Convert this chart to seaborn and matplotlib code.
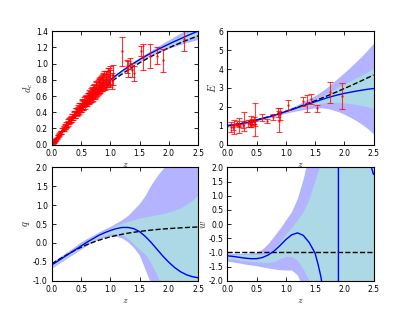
import matplotlib
matplotlib.use("Agg")
import numpy as np
import pandas as pd
import seaborn as sns
from matplotlib import pyplot as plt

# common redshift grid for curves and bands
z_grid = [0.0, 0.1, 0.2, 0.3, 0.4, 0.5, 0.6, 0.7, 0.8, 0.9, 1.0, 1.1, 1.2,
          1.3, 1.4, 1.5, 1.6, 1.7, 1.8, 1.9, 2.0, 2.1, 2.2, 2.3, 2.4, 2.5]

# --- d_c panel ---
dc_lcdm = [0.0, 0.098, 0.191, 0.279, 0.362, 0.440, 0.514, 0.583, 0.648, 0.709,
           0.767, 0.821, 0.872, 0.920, 0.966, 1.009, 1.050, 1.089, 1.126, 1.161,
           1.195, 1.227, 1.257, 1.287, 1.315, 1.342]
dc_fit = [0.0, 0.099, 0.194, 0.285, 0.371, 0.453, 0.531, 0.604, 0.673, 0.738,
          0.799, 0.856, 0.909, 0.959, 1.006, 1.050, 1.092, 1.132, 1.170, 1.206,
          1.241, 1.275, 1.307, 1.340, 1.371, 1.402]
dc_hw2 = [0.0, 0.002, 0.003, 0.004, 0.005, 0.005, 0.006, 0.006, 0.007, 0.008,
          0.009, 0.011, 0.013, 0.016, 0.019, 0.023, 0.028, 0.033, 0.039, 0.046,
          0.053, 0.061, 0.070, 0.080, 0.092, 0.105]
dc_hw1 = [0.0, 0.001, 0.002, 0.002, 0.003, 0.003, 0.003, 0.003, 0.004, 0.004,
          0.005, 0.006, 0.007, 0.008, 0.010, 0.012, 0.014, 0.017, 0.020, 0.023,
          0.027, 0.031, 0.035, 0.040, 0.046, 0.053]

sn_z = [0.015, 0.02, 0.025, 0.03, 0.035, 0.04, 0.05, 0.06, 0.07, 0.08, 0.10, 0.12,
        0.14, 0.16, 0.18, 0.20, 0.22, 0.24, 0.25, 0.26, 0.28, 0.30, 0.31, 0.33,
        0.34, 0.36, 0.38, 0.40, 0.41, 0.43, 0.45, 0.46, 0.48, 0.50, 0.51, 0.53,
        0.55, 0.56, 0.58, 0.60, 0.61, 0.63, 0.64, 0.66, 0.68, 0.70, 0.72, 0.74,
        0.76, 0.78, 0.80, 0.82, 0.84, 0.86, 0.88, 0.90, 0.92, 0.95, 0.97, 1.00,
        1.02, 0.27, 0.29, 0.32, 0.35, 0.37, 0.39, 0.42, 0.44, 0.47, 0.49, 0.52,
        0.54, 0.57, 0.59, 0.62, 0.65, 0.67, 0.69, 0.71, 0.73, 0.75, 0.79, 0.81,
        0.83, 0.85, 0.87, 0.89, 0.93, 0.96, 0.99, 1.05, 0.11, 0.13, 0.15, 0.19,
        0.21, 0.23, 1.20, 1.28, 1.31, 1.33, 1.37, 1.40, 1.53, 1.55, 1.68, 1.79,
        1.90, 2.26]
sn_d = [0.015, 0.020, 0.026, 0.029, 0.036, 0.039, 0.051, 0.058, 0.071, 0.078, 0.102, 0.115,
        0.143, 0.152, 0.184, 0.190, 0.224, 0.228, 0.250, 0.248, 0.280, 0.285, 0.305, 0.310,
        0.338, 0.342, 0.372, 0.372, 0.405, 0.398, 0.440, 0.432, 0.468, 0.455, 0.492, 0.480,
        0.525, 0.505, 0.555, 0.535, 0.575, 0.565, 0.610, 0.590, 0.640, 0.615, 0.672, 0.640,
        0.705, 0.688, 0.720, 0.722, 0.760, 0.748, 0.790, 0.770, 0.805, 0.810, 0.845, 0.815,
        0.790, 0.262, 0.296, 0.322, 0.340, 0.365, 0.370, 0.410, 0.418, 0.460, 0.462, 0.500,
        0.492, 0.538, 0.540, 0.572, 0.582, 0.620, 0.610, 0.655, 0.658, 0.680, 0.710, 0.725,
        0.742, 0.765, 0.775, 0.800, 0.800, 0.835, 0.860, 0.860, 0.112, 0.128, 0.152, 0.186,
        0.210, 0.222, 1.150, 0.970, 0.930, 1.000, 0.920, 0.880, 1.160, 1.080, 1.090, 1.100,
        1.040, 1.300]
sn_err = [0.002, 0.003, 0.003, 0.004, 0.004, 0.005, 0.006, 0.007, 0.008, 0.009, 0.011, 0.013,
          0.016, 0.018, 0.020, 0.022, 0.025, 0.027, 0.028, 0.029, 0.031, 0.033, 0.034, 0.036,
          0.038, 0.039, 0.041, 0.043, 0.045, 0.046, 0.049, 0.050, 0.052, 0.053, 0.055, 0.056,
          0.058, 0.059, 0.062, 0.063, 0.065, 0.066, 0.068, 0.069, 0.072, 0.073, 0.076, 0.077,
          0.080, 0.082, 0.084, 0.087, 0.089, 0.092, 0.094, 0.097, 0.099, 0.102, 0.105, 0.108,
          0.100, 0.030, 0.034, 0.037, 0.040, 0.042, 0.044, 0.047, 0.050, 0.053, 0.055, 0.058,
          0.060, 0.063, 0.066, 0.069, 0.072, 0.075, 0.078, 0.081, 0.084, 0.087, 0.092, 0.095,
          0.097, 0.100, 0.102, 0.105, 0.110, 0.112, 0.115, 0.120, 0.012, 0.014, 0.016, 0.021,
          0.024, 0.026, 0.180, 0.080, 0.100, 0.070, 0.090, 0.090, 0.060, 0.160, 0.150, 0.110,
          0.140, 0.150]

# --- E panel ---
e_lcdm = [1.000, 1.049, 1.104, 1.166, 1.234, 1.309, 1.389, 1.474, 1.565, 1.661,
          1.761, 1.865, 1.973, 2.086, 2.202, 2.321, 2.444, 2.570, 2.699, 2.832,
          2.967, 3.104, 3.245, 3.388, 3.534, 3.683]
e_fit = [1.000, 1.045, 1.095, 1.150, 1.210, 1.300, 1.375, 1.460, 1.550, 1.645,
         1.750, 1.850, 1.955, 2.060, 2.165, 2.270, 2.370, 2.470, 2.560, 2.640,
         2.710, 2.770, 2.830, 2.880, 2.930, 2.970]
e_hw2 = [0.08, 0.07, 0.06, 0.05, 0.05, 0.05, 0.05, 0.05, 0.06, 0.07,
         0.09, 0.12, 0.16, 0.21, 0.27, 0.33, 0.42, 0.55, 0.72, 0.90,
         1.10, 1.32, 1.55, 1.80, 2.08, 2.40]
e_hw1 = [0.04, 0.03, 0.03, 0.02, 0.02, 0.02, 0.02, 0.02, 0.03, 0.03,
         0.04, 0.05, 0.07, 0.09, 0.12, 0.15, 0.19, 0.25, 0.33, 0.41,
         0.50, 0.60, 0.70, 0.81, 0.93, 1.06]

hz_z = [0.07, 0.09, 0.12, 0.17, 0.179, 0.199, 0.20, 0.27, 0.28, 0.352, 0.3802,
        0.40, 0.4004, 0.4247, 0.4497, 0.4783, 0.48, 0.593, 0.68, 0.781, 0.875,
        0.88, 0.90, 1.037, 1.30, 1.363, 1.43, 1.53, 1.75, 1.965]
hz_e = [0.95, 0.95, 0.94, 1.14, 1.03, 1.03, 1.00, 1.05, 1.22, 1.14, 1.14,
        1.30, 1.05, 1.19, 1.27, 1.11, 1.33, 1.42, 1.26, 1.44, 1.71,
        1.23, 1.60, 2.11, 2.30, 2.19, 2.42, 1.92, 2.77, 2.55]
hz_err = [0.27, 0.16, 0.36, 0.11, 0.05, 0.07, 0.41, 0.19, 0.50, 0.19, 0.18,
          0.23, 0.14, 0.15, 0.18, 0.12, 0.85, 0.18, 0.11, 0.16, 0.23,
          0.55, 0.32, 0.27, 0.23, 0.46, 0.25, 0.19, 0.55, 0.69]

# --- q panel ---
q_lcdm = [-0.550, -0.455, -0.362, -0.273, -0.189, -0.113, -0.044, 0.017, 0.071, 0.119,
          0.161, 0.198, 0.230, 0.259, 0.283, 0.305, 0.324, 0.341, 0.356, 0.369,
          0.381, 0.391, 0.400, 0.409, 0.416, 0.423]
q_fit = [-0.58, -0.48, -0.38, -0.28, -0.18, -0.08, 0.02, 0.11, 0.20, 0.27,
         0.33, 0.38, 0.41, 0.41, 0.38, 0.30, 0.17, 0.01, -0.17, -0.35,
         -0.51, -0.65, -0.76, -0.84, -0.89, -0.92]
q_hi2 = [-0.50, -0.40, -0.30, -0.19, -0.08, 0.03, 0.12, 0.20, 0.29, 0.37,
         0.44, 0.53, 0.62, 0.73, 0.89, 1.05, 1.27, 1.55, 1.78, 1.97,
         2.15, 2.35, 2.55, 2.75, 2.90, 3.00]
q_lo2 = [-0.66, -0.56, -0.46, -0.36, -0.26, -0.16, -0.06, 0.03, 0.10, 0.15,
         0.18, 0.18, 0.13, 0.03, -0.12, -0.33, -0.72, -1.10, -3.0, -3.0,
         -3.0, -3.0, -3.0, -3.0, -3.0, -3.0]
q_hi1 = [-0.53, -0.43, -0.33, -0.23, -0.13, -0.03, 0.07, 0.16, 0.25, 0.32,
         0.39, 0.46, 0.52, 0.57, 0.62, 0.66, 0.69, 0.72, 0.75, 0.78,
         0.82, 0.87, 0.93, 1.02, 1.13, 1.27]
q_lo1 = [-0.63, -0.53, -0.43, -0.33, -0.23, -0.13, -0.03, 0.06, 0.14, 0.20,
         0.24, 0.25, 0.22, 0.12, -0.03, -0.18, -0.30, -0.55, -0.85, -1.30,
         -3.0, -3.0, -3.0, -3.0, -3.0, -3.0]

# --- w panel ---
w_lcdm = [-1.0] * len(z_grid)
w_z = [0.0, 0.1, 0.2, 0.3, 0.4, 0.5, 0.6, 0.7, 0.8, 0.9, 1.0, 1.1, 1.2, 1.3, 1.4,
       1.5, 1.55, 1.6, 1.65, 1.7, 1.8, 1.85, 1.9, 1.9, 1.95, 2.0, 2.1, 2.2, 2.3,
       2.4, 2.45, 2.5]
w_fit = [-1.12, -1.14, -1.17, -1.20, -1.22, -1.22, -1.18, -1.09, -0.95, -0.76,
         -0.55, -0.38, -0.31, -0.40, -0.65, -1.02, -1.40, -1.85, -2.5, -3.3,
         -5.5, -8.0, -50.0, 50.0, 12.0, 8.0, 5.0, 3.6, 2.8, 2.3, 2.1, 1.75]
w_hi2 = [-1.03, -1.03, -1.03, -1.03, -1.02, -1.00, -0.88, -0.68, -0.42, -0.15,
         0.15, 0.45, 0.92, 1.62, 2.5, 4.0, 5.0, 5.0, 5.0, 5.0,
         5.0, 5.0, 5.0, 5.0, 5.0, 5.0]
w_lo2 = [-1.30, -1.34, -1.37, -1.41, -1.44, -1.47, -1.51, -1.55, -1.58, -1.61,
         -1.62, -1.62, -1.80, -2.3, -3.0, -5.0, -5.0, -5.0, -5.0, -5.0,
         -5.0, -5.0, -5.0, -5.0, -5.0, -5.0]
w_hi1 = [-1.06, -1.07, -1.07, -1.07, -1.07, -1.07, -1.07, -1.03, -0.85, -0.62,
         -0.35, -0.12, 0.15, 0.45, 0.90, 1.55, 2.2, 4.0, 5.0, 5.0,
         5.0, 5.0, 5.0, 5.0, 5.0, 5.0]
w_lo1 = [-1.22, -1.24, -1.27, -1.30, -1.32, -1.33, -1.35, -1.35, -1.32, -1.22,
         -1.14, -1.14, -1.28, -1.60, -2.0, -2.5, -5.0, -5.0, -5.0, -5.0,
         -5.0, -5.0, -5.0, -5.0, -5.0, -5.0]

OUTER = "#b3b3ff"
INNER = "lightblue"

sns.set_style("ticks")
plt.rcParams.update({
    "font.family": ["DejaVu Sans"],
    "font.size": 5.5,
    "mathtext.fontset": "cm",
    "axes.linewidth": 0.8,
    "axes.edgecolor": "black",
    "xtick.color": "black",
    "ytick.color": "black",
    "xtick.direction": "in",
    "ytick.direction": "in",
    "xtick.top": True,
    "ytick.right": True,
    "xtick.major.size": 3,
    "ytick.major.size": 3,
    "xtick.major.width": 0.6,
    "ytick.major.width": 0.6,
    "xtick.major.pad": 3.0,
    "ytick.major.pad": 3.0,
    "axes.labelpad": 0.5,
})

fig, axes = plt.subplots(2, 2, figsize=(4.15, 3.12), dpi=100)
fig.subplots_adjust(left=0.125, right=0.9, bottom=0.1, top=0.9, wspace=0.2, hspace=0.2)
zg = np.array(z_grid)


def draw_curves(ax, z_fit, fit, lcdm, lo2, hi2, lo1, hi1):
    ax.fill_between(zg, lo2, hi2, color=OUTER, lw=0, zorder=1)
    ax.fill_between(zg, lo1, hi1, color=INNER, lw=0, zorder=2)
    sns.lineplot(x=zg, y=lcdm, ax=ax, color="k", ls="--", lw=1.0, zorder=3)
    sns.lineplot(x=z_fit, y=fit, ax=ax, color="b", lw=1.0, zorder=4,
                 estimator=None, sort=False)


# d_c
ax = axes[0, 0]
fit = np.array(dc_fit)
draw_curves(ax, zg, fit, dc_lcdm, fit - dc_hw2, fit + dc_hw2, fit - dc_hw1, fit + dc_hw1)
ax.errorbar(sn_z, sn_d, yerr=sn_err, fmt=".", color="red", ms=1.5, elinewidth=0.8,
            capsize=2, capthick=0.8, alpha=0.8, zorder=5)
ax.set_ylim(0, 1.4)
ax.set_yticks(np.arange(0, 1.41, 0.2))
ax.set_ylabel("$d_c$", fontsize=7.5)

# E
ax = axes[0, 1]
fit = np.array(e_fit)
draw_curves(ax, zg, fit, e_lcdm, fit - e_hw2, fit + e_hw2, fit - e_hw1, fit + e_hw1)
ax.errorbar(hz_z, hz_e, yerr=hz_err, fmt=".", color="red", ms=1.5, elinewidth=0.8,
            capsize=2, capthick=0.8, alpha=0.75, zorder=5)
ax.set_ylim(0, 6)
ax.set_yticks(range(0, 7))
ax.set_ylabel("$E$", fontsize=7.5)

# q
ax = axes[1, 0]
draw_curves(ax, zg, q_fit, q_lcdm, q_lo2, q_hi2, q_lo1, q_hi1)
ax.set_ylim(-1, 2)
ax.set_yticks(np.arange(-1, 2.01, 0.5))
ax.set_ylabel("$q$", fontsize=7.5)

# w
ax = axes[1, 1]
draw_curves(ax, w_z, w_fit, w_lcdm, w_lo2, w_hi2, w_lo1, w_hi1)
ax.set_ylim(-2, 2)
ax.set_yticks(np.arange(-2, 2.01, 0.5))
ax.set_ylabel("$w$", fontsize=7.5)

for ax in axes.flat:
    ax.set_xlim(0, 2.5)
    ax.set_xticks(np.arange(0, 2.51, 0.5))
    ax.xaxis.set_major_formatter(matplotlib.ticker.FormatStrFormatter("%.1f"))
    if ax.get_ylim()[1] != 6:
        ax.yaxis.set_major_formatter(matplotlib.ticker.FormatStrFormatter("%.1f"))
    ax.set_xlabel("$z$", fontsize=7)
    for s in ax.spines.values():
        s.set_zorder(10)

# keep the upper x labels above the lower axes backgrounds
for ax in axes[0]:
    ax.set_zorder(2)

fig.savefig("out.png", dpi=100)
